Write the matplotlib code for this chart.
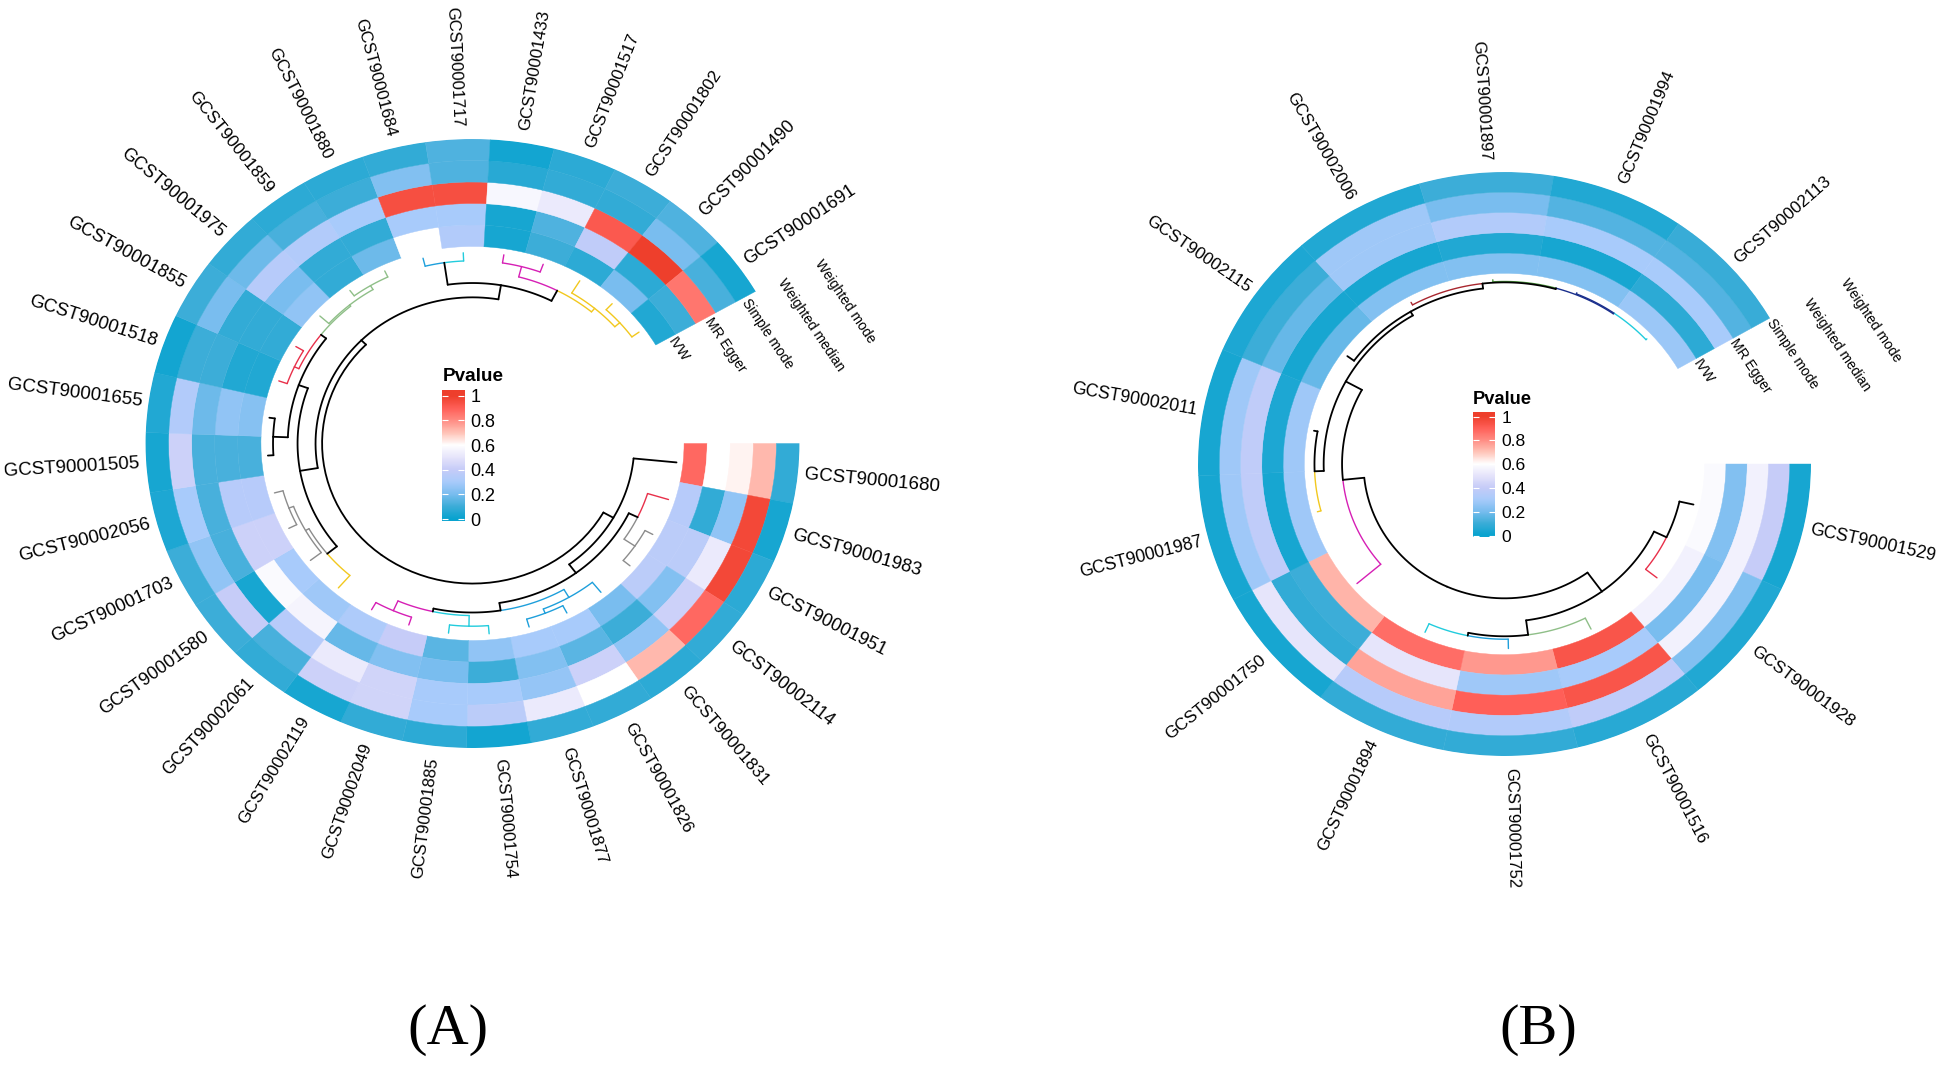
import numpy as np
import matplotlib
matplotlib.use("Agg")
import matplotlib.pyplot as plt
from matplotlib.colors import LinearSegmentedColormap

plt.rcParams['font.family'] = ['Liberation Sans', 'DejaVu Sans']

methods = ["IVW", "MR Egger", "Simple mode", "Weighted median", "Weighted mode"]

# Panel A
a_labels = ["GCST90001680", "GCST90001983", "GCST90001951", "GCST90002114", "GCST90001831",
            "GCST90001826", "GCST90001877", "GCST90001754", "GCST90001885", "GCST90002049",
            "GCST90002119", "GCST90002061", "GCST90001580", "GCST90001703", "GCST90002056",
            "GCST90001505", "GCST90001655", "GCST90001518", "GCST90001855", "GCST90001975",
            "GCST90001859", "GCST90001880", "GCST90001684", "GCST90001717", "GCST90001433",
            "GCST90001517", "GCST90001802", "GCST90001490", "GCST90001691"]
a_ivw = [.88, .35, .36, .36, .2, .3, .3, .25, .15, .4, .32, .28, .3, .42, .35, .12, .23, .05, .08, .25, .08, .18, .6, .33, .03, .1, .07, .2, .05]
a_egger = [.6, .08, .36, .22, .1, .15, .22, .1, .2, .22, .17, .56, .58, .42, .35, .12, .25, .05, .08, .2, .08, .08, .3, .3, .03, .13, .38, .07, .1]
a_simple = [.62, .25, .52, .42, .25, .42, .26, .3, .3, .43, .52, .35, .03, .12, .12, .12, .18, .1, .08, .35, .33, .3, .95, .95, .57, .52, .92, 1.0, .85]
a_median = [.72, .97, .97, .88, .72, .6, .52, .36, .3, .43, .42, .12, .4, .25, .3, .42, .33, .1, .2, .18, .12, .1, .22, .13, .06, .08, .08, .2, .12]
a_mode = [.08, .03, .07, .08, .07, .08, .08, .02, .07, .08, .03, .08, .1, .1, .04, .03, .05, .02, .1, .08, .07, .07, .08, .13, .02, .07, .1, .13, .03]

# Panel B
b_labels = ["GCST90001529", "GCST90001928", "GCST90001516", "GCST90001752", "GCST90001894",
            "GCST90001750", "GCST90001987", "GCST90002011", "GCST90002115", "GCST90002006",
            "GCST90001897", "GCST90001994", "GCST90002113"]
b_ivw = [.58, .55, .93, .78, .87, .73, .28, .28, .17, .22, .22, .22, .27]
b_egger = [.22, .2, .3, .28, .5, .1, .03, .04, .03, .03, .05, .03, .07]
b_simple = [.55, .55, .93, .9, .76, .08, .38, .38, .17, .28, .33, .3, .3]
b_median = [.4, .22, .38, .33, .35, .5, .28, .28, .1, .28, .2, .14, .14]
b_mode = [.03, .05, .06, .08, .08, .03, .03, .03, .04, .05, .1, .05, .09]

# dendrogram palette
RED, GREY, BLUE, CYAN = "#E8304A", "#8C8C8C", "#1E9FDB", "#22CCDD"
MAG, GOLD, SAGE = "#D61FB5", "#F2C81E", "#8FBF88"
NAVY, DGREEN, DRED = "#1A2F8C", "#4E9A3E", "#A8262E"


def N(r, color, *children):
    return (r, color, children)


# dendrograms: N(merge radius, edge colour, children); a leaf is a sector index or (index, colour)
a_red_grey = N(.56, None, (1, RED), N(.60, GREY, 2, 3))
a_blue = N(.585, BLUE, 4, N(.60, BLUE, 5, 6))
a_mag_cyan = N(.565, None, N(.60, CYAN, 7, 8), N(.60, MAG, 9, 10))
a_low = N(.53, None, a_red_grey, N(.555, None, a_mag_cyan, a_blue))
a_right = N(.495, None, 0, a_low)
a_gold_grey = N(.573, None, (11, GOLD), N(.585, GREY, 12, N(.60, GREY, 13, 14)))
a_red_green = N(.585, None, N(.60, RED, 17, 18), N(.59, SAGE, 19, N(.605, SAGE, 20, 21)))
a_left_mid = N(.535, None, a_gold_grey, N(.565, None, N(.61, None, 15, 16), a_red_green))
a_top = N(.527, None, N(.60, None, (22, BLUE), (23, CYAN)),
          N(.565, None, N(.60, MAG, 24, 25), N(.58, GOLD, 26, N(.60, GOLD, 27, 28))))
a_tree = N(.46, None, a_right, N(.48, None, a_left_mid, a_top))

b_low = N(.54, None, N(.585, None, 0, (1, RED)),
          N(.59, None, (2, SAGE), N(.60, None, (3, BLUE), (4, CYAN))))
b_top = N(.622, None, (9, DRED), N(.625, None, (10, DGREEN), N(.628, NAVY, 11, (12, CYAN))))
b_left = N(.53, None, (5, MAG),
           N(.59, None, N(.62, None, (6, GOLD), 7), N(.605, None, 8, b_top)))
b_tree = N(.46, None, b_low, b_left)

cmap = LinearSegmentedColormap.from_list("p", [
    (0.0, "#09A3CF"), (0.1, "#3DADD8"), (0.2, "#79BDEF"), (0.3, "#A9CBFB"),
    (0.4, "#C6CCF8"), (0.5, "#E6E4FB"), (0.6, "#FFFFFF"), (0.7, "#FFC4B8"),
    (0.8, "#FF8D84"), (0.9, "#FF6059"), (1.0, "#EE3F2C")])

W, H = 1940, 1067
fig = plt.figure(figsize=(W / 100, H / 100), dpi=100, facecolor="white")


def draw_tree(ax, node, w, tip):
    """Returns (angle, radius) of a node, drawing its edges."""
    if isinstance(node, int):
        return (node + .5) * w, tip, None
    if isinstance(node, tuple) and len(node) == 2:
        return (node[0] + .5) * w, tip, node[1]
    r, color, kids = node
    placed = [draw_tree(ax, k, w, tip) for k in kids]
    th = np.mean([p[0] for p in placed])
    for kth, kr, kcol in placed:
        c = kcol or color or "black"
        lw = 1.3 if c == "black" else 1.0
        ts = np.linspace(th, kth, 30)
        ax.plot(ts, np.full_like(ts, r), color=c, lw=lw, solid_capstyle="round")
        ax.plot([kth, kth], [r, kr], color=c, lw=lw, solid_capstyle="round")
    return th, r, color


def panel(cx, cy, rx, ry, inner, ring, rows, labels, tree, tip, fs_h, fs_v, m_r0, m_dr):
    ax = fig.add_axes([(cx - rx) / W, 1 - (cy + ry) / H, 2 * rx / W, 2 * ry / H], projection="polar")
    ax.set_aspect("auto")
    ax.set_theta_zero_location("E")
    ax.set_theta_direction(-1)
    ax.set_ylim(0, 1)
    ax.axis("off")
    n = len(labels)
    w = np.radians(330) / n
    for i, vals in enumerate(rows):
        for k, v in enumerate(vals):
            col = cmap(float(v))
            ax.bar((k + .5) * w, ring, width=w, bottom=inner + i * ring, color=col,
                   edgecolor=col, linewidth=.3)
    draw_tree(ax, tree, w, tip)
    for k, lab in enumerate(labels):
        th = (k + .5) * w
        c, s = np.cos(th), np.sin(th)
        ang = np.degrees(np.arctan2(-s * ry, c * rx))
        right = c >= 0
        fs = fs_h * c * c + fs_v * s * s
        ax.text(th, 1.02 + .02 * s * s, lab, rotation=ang if right else ang - 180,
                rotation_mode="anchor", ha="left" if right else "right", va="center",
                fontsize=fs, color="black")
    for i, m in enumerate(methods):
        ax.text(np.radians(330.4), m_r0 + i * m_dr, m, rotation=-56, rotation_mode="anchor",
                ha="left", va="center", fontsize=10, color="black")


def legend(x0, x1, y_top, y_bot, y_one, y_zero, lab_x, title_x, title_y, fs):
    ax = fig.add_axes([x0 / W, 1 - y_bot / H, (x1 - x0) / W, (y_bot - y_top) / H])
    per = (y_zero - y_one)
    vmin = -(y_bot - y_zero) / per
    vmax = 1 + (y_one - y_top) / per
    grad = np.linspace(vmin, vmax, 256)[:, None]
    ax.imshow(np.clip(grad, 0, 1), cmap=cmap, vmin=0, vmax=1, origin="lower", aspect="auto",
              extent=[0, 1, vmin, vmax])
    ticks = [0, .2, .4, .6, .8, 1]
    ax.set_yticks(ticks)
    ax.set_yticklabels(["0", "0.2", "0.4", "0.6", "0.8", "1"], fontsize=fs)
    ax.set_xticks([])
    ax.tick_params(axis="y", direction="in", left=True, right=True, labelleft=False, labelright=True,
                   color="white", length=4, width=.8, pad=lab_x - x1 + 0)
    for sp in ax.spines.values():
        sp.set_visible(False)
    fig.text(title_x / W, 1 - title_y / H, "Pvalue", fontsize=fs + .6, fontweight="bold",
             ha="center", va="center")


a_rows = [a_ivw, a_egger, a_simple, a_median, a_mode]
b_rows = [b_ivw, b_egger, b_simple, b_median, b_mode]

panel(472.5, 443.5, 327, 304.5, .647, .0706, a_rows, a_labels, a_tree, .627, 13.5, 12.0, .698, .129)
panel(1504.5, 464, 306.5, 292, .653, .0694, b_rows, b_labels, b_tree, .632, 12.7, 12.0, .718, .139)

legend(442, 464.5, 390, 521, 395.7, 519, 469, 473, 377, 13)
legend(1473, 1494.6, 411.7, 537.5, 416.7, 535.7, 1499.3, 1502, 399, 12.6)

fig.text(448 / W, 1 - 1030 / H, "(A)", fontsize=42, family="Liberation Serif", ha="center", va="center")
fig.text(1538 / W, 1 - 1030 / H, "(B)", fontsize=42, family="Liberation Serif", ha="center", va="center")

fig.savefig("out.png", dpi=100, facecolor="white")
